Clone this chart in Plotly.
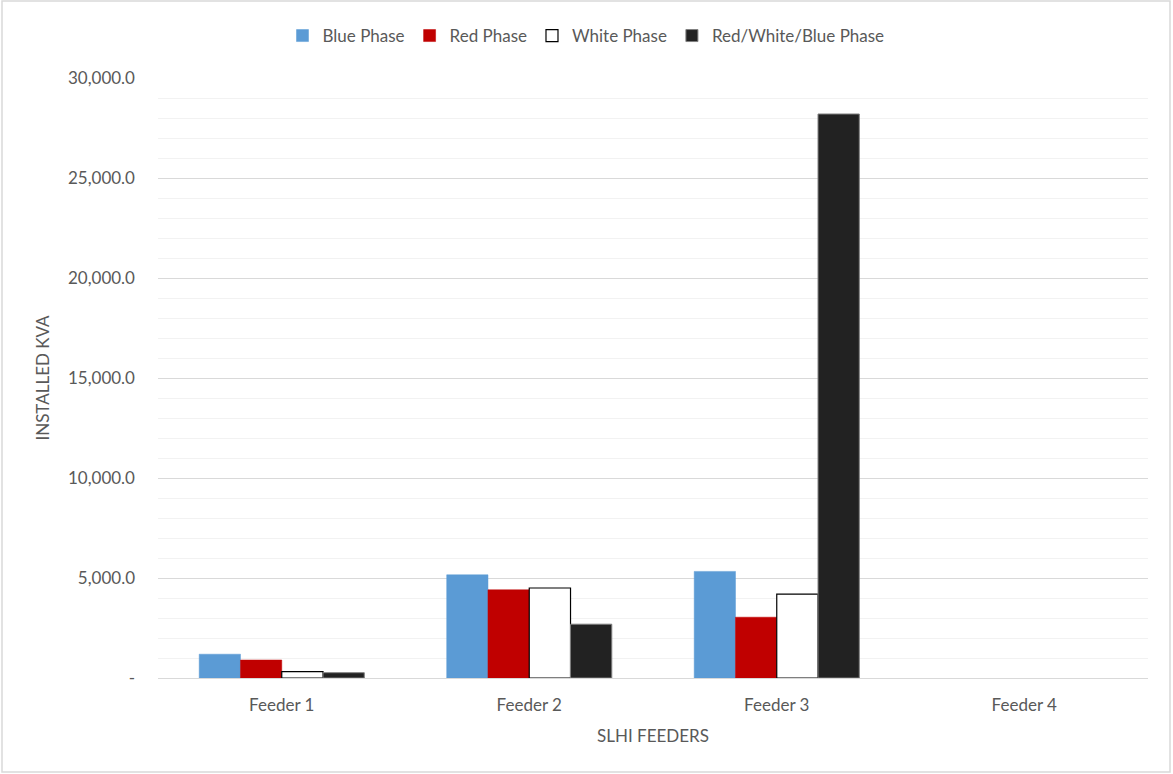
import plotly.graph_objects as go

feeders = ["Feeder 1", "Feeder 2", "Feeder 3", "Feeder 4"]
blue_phase = [1190, 5160, 5330, 0]
red_phase = [900, 4410, 3040, 0]
white_phase = [320, 4500, 4195, 0]
rwb_phase = [265, 2690, 28200, 0]
y_ticks = [0, 5000, 10000, 15000, 20000, 25000, 30000]
y_tick_labels = ["-", "5,000.0", "10,000.0", "15,000.0", "20,000.0", "25,000.0", "30,000.0"]

FONT = "Lato, 'Open Sans', sans-serif"
GREY = "#595959"
FS = 17


def outline(vals, w):
    return [w if v else 0 for v in vals]


fig = go.Figure()
fig.add_bar(x=feeders, y=blue_phase, name="Blue Phase",
            marker=dict(color="#5b9bd5", line=dict(color="#5b9bd5", width=outline(blue_phase, 0.5))))
fig.add_bar(x=feeders, y=red_phase, name="Red Phase",
            marker=dict(color="#c00000", line=dict(color="#c00000", width=outline(red_phase, 0.5))))
fig.add_bar(x=feeders, y=white_phase, name="White Phase",
            marker=dict(color="#ffffff", line=dict(color="#000000", width=outline(white_phase, 1.2))))
fig.add_bar(x=feeders, y=rwb_phase, name="Red/White/Blue Phase",
            marker=dict(color="#222222", line=dict(color="#7f7f7f", width=outline(rwb_phase, 1))))

W, H = 1173, 774
l, r, t, b = 158, 25, 78, 96
pw, ph = W - l - r, H - t - b


def px(x):
    return (x - l) / pw


def py(y):
    return (H - b - y) / ph


fig.update_layout(
    width=W, height=H,
    margin=dict(l=l, r=r, t=t, b=b, autoexpand=False),
    paper_bgcolor="white", plot_bgcolor="white",
    barmode="group", bargap=0.333, bargroupgap=0,
    font=dict(family=FONT, size=FS, color=GREY),
    showlegend=True,
    legend=dict(orientation="h", x=px(586), xanchor="center", y=py(36), yanchor="middle",
                font=dict(family=FONT, size=FS, color=GREY),
                traceorder="normal"),
    xaxis=dict(showgrid=False, showline=False, ticks="", tickfont=dict(size=FS, color=GREY),
               ticklabelstandoff=15,
               title=dict(text="SLHI FEEDERS", font=dict(size=FS, color=GREY), standoff=16)),
    yaxis=dict(range=[0, 30000], tickvals=y_ticks, ticktext=y_tick_labels,
               showgrid=True, gridcolor="#d9d9d9", gridwidth=1,
               zeroline=True, zerolinecolor="#d9d9d9", zerolinewidth=1,
               minor=dict(dtick=1000, showgrid=True, gridcolor="#f2f2f2", gridwidth=1),
               ticks="", ticklabelstandoff=22,
               tickfont=dict(size=FS, color=GREY),
               title=dict(text="INSTALLED KVA", font=dict(size=FS, color=GREY), standoff=14)),
    shapes=[dict(type="rect", xref="paper", yref="paper",
                 x0=px(2), x1=px(1170), y0=py(772), y1=py(1),
                 line=dict(color="#d9d9d9", width=1.5), fillcolor="rgba(0,0,0,0)", layer="below")],
)

fig.write_html("out.html", config={"displayModeBar": False},
               post_script="document.body.style.margin='0';")
